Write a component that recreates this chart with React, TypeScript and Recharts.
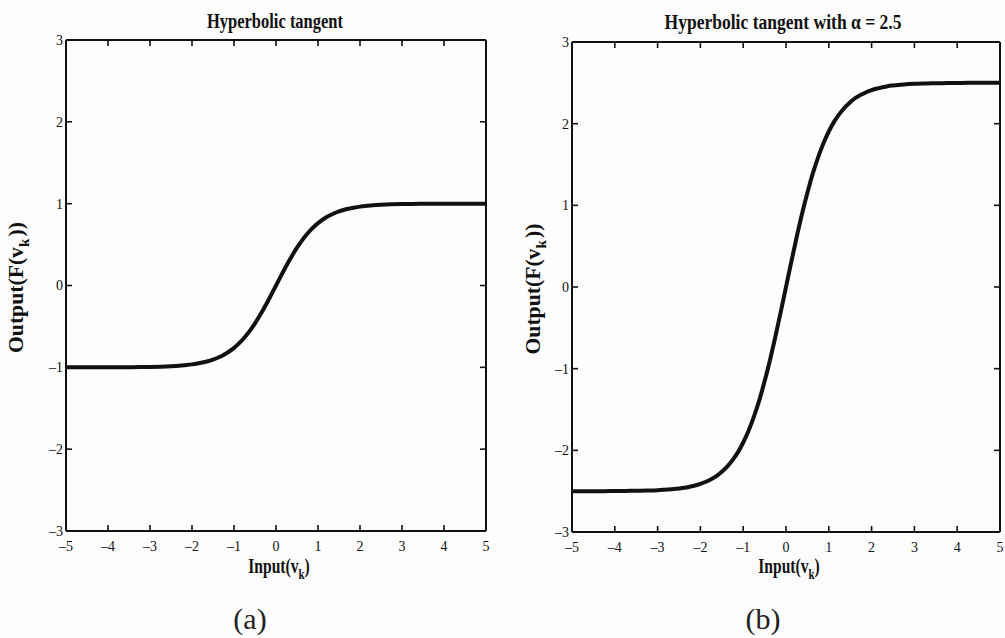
import { LineChart, Line, XAxis, YAxis, Label } from 'recharts';

// sample points along the input axis (denser where the curves bend)
const X_VALUES = [
  -5, -4.75, -4.5, -4.25, -4, -3.75, -3.5, -3.25, -3, -2.75,
  -2.5, -2.375, -2.25, -2.125, -2, -1.875, -1.75, -1.625, -1.5, -1.375, -1.25, -1.125, -1, -0.875, -0.75, -0.625, -0.5, -0.375, -0.25, -0.125,
  0,
  0.125, 0.25, 0.375, 0.5, 0.625, 0.75, 0.875, 1, 1.125, 1.25, 1.375, 1.5, 1.625, 1.75, 1.875, 2, 2.125, 2.25, 2.375, 2.5,
  2.75, 3, 3.25, 3.5, 3.75, 4, 4.25, 4.5, 4.75, 5,
];

// (a) plain hyperbolic tangent
const TANH_Y = [
  -1, -1, -1, -1, -0.999, -0.999, -0.998, -0.997, -0.995, -0.992,
  -0.987, -0.983, -0.978, -0.972, -0.964, -0.954, -0.941, -0.926, -0.905, -0.88, -0.848, -0.81, -0.762, -0.704, -0.635, -0.555, -0.462, -0.358, -0.245, -0.124,
  0,
  0.124, 0.245, 0.358, 0.462, 0.555, 0.635, 0.704, 0.762, 0.81, 0.848, 0.88, 0.905, 0.926, 0.941, 0.954, 0.964, 0.972, 0.978, 0.983, 0.987,
  0.992, 0.995, 0.997, 0.998, 0.999, 0.999, 1, 1, 1, 1,
];

// (b) hyperbolic tangent with alpha = 2.5
const TANH_ALPHA_Y = [
  -2.5, -2.5, -2.5, -2.5, -2.498, -2.497, -2.495, -2.492, -2.488, -2.48,
  -2.467, -2.458, -2.445, -2.43, -2.41, -2.385, -2.353, -2.315, -2.263, -2.2, -2.12, -2.025, -1.904, -1.76, -1.588, -1.388, -1.155, -0.896, -0.612, -0.311,
  0,
  0.311, 0.612, 0.896, 1.155, 1.388, 1.588, 1.76, 1.904, 2.025, 2.12, 2.2, 2.263, 2.315, 2.353, 2.385, 2.41, 2.43, 2.445, 2.458, 2.467,
  2.48, 2.488, 2.492, 2.495, 2.497, 2.498, 2.5, 2.5, 2.5, 2.5,
];

const X_TICKS = [-5, -4, -3, -2, -1, 0, 1, 2, 3, 4, 5];
const Y_TICKS = [-3, -2, -1, 0, 1, 2, 3];

const leftData = X_VALUES.map((x, i) => ({ x, y: TANH_Y[i] }));
const rightData = X_VALUES.map((x, i) => ({ x, y: TANH_ALPHA_Y[i] }));

const SERIF = '"Liberation Serif", "Times New Roman", serif';
const tickFmt = (v: number) => (v < 0 ? '\u2013' + Math.abs(v) : String(v));
const blank = () => '';
const tickStyle = { fontFamily: SERIF, fontSize: 14, fill: '#111' };
const axisLine = { stroke: '#111', strokeWidth: 2 };
const tickLine = { stroke: '#111', strokeWidth: 1.6 };

type PanelProps = {
  data: { x: number; y: number }[];
  margin: { top: number; right: number; bottom: number; left: number };
  yAxisWidth: number;
  yLabelX: number;
};

function Panel({ data, margin, yAxisWidth, yLabelX }: PanelProps) {
  return (
    <LineChart width={500} height={638} data={data} margin={margin}>
      <XAxis
        dataKey="x"
        type="number"
        domain={[-5, 5]}
        ticks={X_TICKS}
        tickFormatter={tickFmt}
        tick={tickStyle}
        stroke="#111"
        tickSize={-6}
        tickMargin={16}
        axisLine={axisLine}
        tickLine={tickLine}
        height={30}
        allowDataOverflow
      >
        <Label
          content={(p: any) => {
            const vb = p.viewBox;
            const cx = vb.x + vb.width / 2 + 3;
            // condensed bold serif, like the original figure
            return (
              <text
                transform={`translate(${cx}, 573) scale(0.78, 1)`}
                x={0}
                y={0}
                textAnchor="middle"
                fontFamily={SERIF}
                fontWeight="bold"
                fontSize={20}
                fill="#111"
              >
                Input(v
                <tspan dy={6} fontSize={14}>k</tspan>
                <tspan dy={-6}>)</tspan>
              </text>
            );
          }}
        />
      </XAxis>
      <XAxis
        xAxisId="top"
        orientation="top"
        dataKey="x"
        type="number"
        domain={[-5, 5]}
        ticks={X_TICKS}
        tickFormatter={blank}
        stroke="#111"
        tickSize={-6}
        axisLine={axisLine}
        tickLine={tickLine}
        height={1}
        allowDataOverflow
      />
      <YAxis
        type="number"
        domain={[-3, 3]}
        ticks={Y_TICKS}
        tickFormatter={tickFmt}
        tick={tickStyle}
        stroke="#111"
        tickSize={-6}
        tickMargin={9}
        axisLine={axisLine}
        tickLine={tickLine}
        width={yAxisWidth}
        allowDataOverflow
      >
        <Label
          content={(p: any) => {
            const vb = p.viewBox;
            const cy = vb.y + vb.height / 2 + 2;
            return (
              <text
                x={yLabelX}
                y={cy}
                transform={`rotate(-90, ${yLabelX}, ${cy})`}
                textAnchor="middle"
                fontFamily={SERIF}
                fontWeight="bold"
                fontSize={20}
                fill="#111"
                textLength={131}
                lengthAdjust="spacingAndGlyphs"
              >
                Output(F(v
                <tspan dy={6} fontSize={14}>k</tspan>
                <tspan dy={-6} dx={2}>))</tspan>
              </text>
            );
          }}
        />
      </YAxis>
      <YAxis
        yAxisId="right"
        orientation="right"
        type="number"
        domain={[-3, 3]}
        ticks={Y_TICKS}
        tickFormatter={blank}
        stroke="#111"
        tickSize={-6}
        axisLine={axisLine}
        tickLine={tickLine}
        width={1}
        allowDataOverflow
      />
      {/* invisible copy so the top/right frame axes get a scale */}
      <Line
        xAxisId="top"
        yAxisId="right"
        dataKey="y"
        stroke="none"
        dot={false}
        activeDot={false}
        legendType="none"
        isAnimationActive={false}
      />
      <Line
        type="monotone"
        dataKey="y"
        stroke="#111"
        strokeWidth={4}
        dot={false}
        isAnimationActive={false}
      />
    </LineChart>
  );
}

const captionStyle = {
  position: 'absolute' as const,
  top: 601,
  width: 100,
  textAlign: 'center' as const,
  fontFamily: SERIF,
  fontSize: 30,
  lineHeight: '36px',
  color: '#222',
};

export default function App() {
  return (
    <div style={{ position: 'absolute', left: 0, top: 0, width: 1005, height: 638, background: '#fdfdfd', overflow: 'hidden' }}>
      <div style={{ position: 'absolute', left: 0, top: 0 }}>
        <Panel
          data={leftData}
          margin={{ top: 39, right: 13, bottom: 77, left: 0 }}
          yAxisWidth={66}
          yLabelX={23}
        />
      </div>
      <div style={{ position: 'absolute', left: 505, top: 0 }}>
        <Panel
          data={rightData}
          margin={{ top: 41, right: 4, bottom: 76, left: 0 }}
          yAxisWidth={67}
          yLabelX={35}
        />
      </div>
      <svg width={1005} height={40} style={{ position: 'absolute', left: 0, top: 0 }}>
        <text
          x={275}
          y={28}
          textAnchor="middle"
          fontFamily={SERIF}
          fontWeight="bold"
          fontSize={20}
          fill="#111"
          textLength={136}
          lengthAdjust="spacingAndGlyphs"
        >
          Hyperbolic tangent
        </text>
        <text
          x={783}
          y={29}
          textAnchor="middle"
          fontFamily={SERIF}
          fontWeight="bold"
          fontSize={20}
          fill="#111"
          textLength={237}
          lengthAdjust="spacingAndGlyphs"
        >
          {'Hyperbolic tangent with \u03b1 = 2.5'}
        </text>
      </svg>
      <div style={{ ...captionStyle, left: 200 }}>(a)</div>
      <div style={{ ...captionStyle, left: 713 }}>(b)</div>
    </div>
  );
}
